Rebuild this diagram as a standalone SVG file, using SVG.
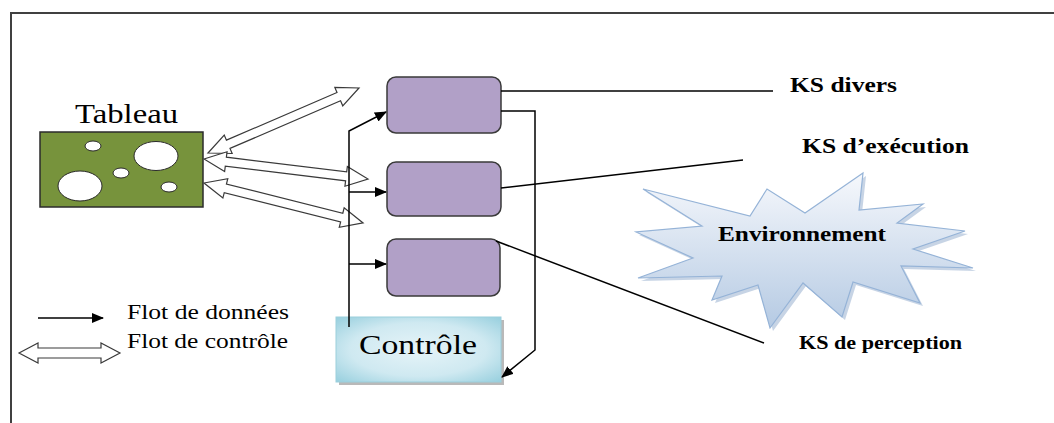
<svg xmlns="http://www.w3.org/2000/svg" width="1054" height="423" viewBox="0 0 1054 423">
<defs>
<style>
text{font-family:"Liberation Serif","DejaVu Serif",serif;fill:#000}
.b{font-weight:bold}
.ln{fill:none;stroke:#000;stroke-width:1.5}
.box{fill:#b1a0c7;stroke:#3a3a3a;stroke-width:1.5}
.dbl{fill:#fff;stroke:#3a3a3a;stroke-width:1.2;stroke-linejoin:miter}
</style>
<marker id="ah" viewBox="0 0 12 10" refX="11" refY="5" markerWidth="12" markerHeight="10" markerUnits="userSpaceOnUse" orient="auto">
<path d="M0,0 L12,5 L0,10 Z" fill="#000"/>
</marker>
<linearGradient id="starG" x1="0" y1="0" x2="0" y2="1">
<stop offset="0" stop-color="#f6f8fc"/>
<stop offset="1" stop-color="#b5cae3"/>
</linearGradient>
<radialGradient id="ctlG" cx="0.5" cy="0.5" r="0.75">
<stop offset="0" stop-color="#e6f4f8"/>
<stop offset="0.55" stop-color="#cfe9f1"/>
<stop offset="1" stop-color="#8ecbdb"/>
</radialGradient>
</defs>

<path d="M11,423 L11,13 L1054,13" fill="none" stroke="#404040" stroke-width="2"/>

<g id="tableau">
<text x="75" y="123" font-family="Liberation Serif, DejaVu Serif, serif" font-size="28" textLength="103" lengthAdjust="spacingAndGlyphs">Tableau</text>
<rect x="40" y="132" width="163" height="75" fill="#77933c" stroke="#2b2b2b" stroke-width="1.5"/>
<g fill="#fff" stroke="#2b2b2b" stroke-width="1">
<ellipse cx="93" cy="146" rx="8" ry="5"/>
<ellipse cx="156" cy="156" rx="22" ry="14.5"/>
<ellipse cx="121" cy="173" rx="8" ry="5"/>
<ellipse cx="80" cy="186" rx="22" ry="15"/>
<ellipse cx="169" cy="187" rx="8" ry="5"/>
</g>
</g>

<g id="ks-divers-box"><rect class="box" x="387" y="77" width="114" height="56" rx="9"/></g>
<g id="ks-execution-box"><rect class="box" x="387" y="162" width="114" height="54" rx="9"/></g>
<g id="ks-perception-box"><rect class="box" x="387" y="239" width="113" height="57" rx="9"/></g>

<g id="controle">
<rect x="339" y="320" width="165" height="65" fill="#7f7f7f" opacity="0.55"/>
<rect x="336" y="317" width="165" height="65" fill="url(#ctlG)" stroke="#9ccfdc" stroke-width="1"/>
<text x="359" y="354" font-family="Liberation Serif, DejaVu Serif, serif" font-size="28" textLength="118" lengthAdjust="spacingAndGlyphs">Contrôle</text>
</g>

<g id="environnement">
<polygon points="643,189 750,216 767,189 805,213 863,173 859,210 923,204 897,223 965,231 913,249 973,268 901,266 920,303 853,282 842,317 803,283 770,328 758,285 712,300 722,276 638,278 693,258 636,232 702,226" transform="translate(3,3)" fill="#8faacb" opacity="0.5"/>
<polygon points="643,189 750,216 767,189 805,213 863,173 859,210 923,204 897,223 965,231 913,249 973,268 901,266 920,303 853,282 842,317 803,283 770,328 758,285 712,300 722,276 638,278 693,258 636,232 702,226" fill="url(#starG)" stroke="#95b3d7" stroke-width="1.2"/>
<text class="b" x="718" y="241" font-family="Liberation Serif, DejaVu Serif, serif" font-size="22" textLength="168" lengthAdjust="spacingAndGlyphs">Environnement</text>
</g>

<g id="labels">
<text class="b" x="790" y="92" font-family="Liberation Serif, DejaVu Serif, serif" font-size="21" textLength="107" lengthAdjust="spacingAndGlyphs">KS divers</text>
<text class="b" x="802" y="153" font-family="Liberation Serif, DejaVu Serif, serif" font-size="21" textLength="167" lengthAdjust="spacingAndGlyphs">KS d’exécution</text>
<text class="b" x="799" y="349" font-family="Liberation Serif, DejaVu Serif, serif" font-size="19" textLength="163" lengthAdjust="spacingAndGlyphs">KS de perception</text>
</g>

<g id="legend">
<line class="ln" x1="38" y1="318" x2="103" y2="318" marker-end="url(#ah)"/>
<path class="dbl" d="M19,353 L38,343 L38,348 L101,348 L101,343 L120,353 L101,363 L101,358 L38,358 L38,363 Z"/>
<text x="127" y="319" font-family="Liberation Serif, DejaVu Serif, serif" font-size="22" textLength="162" lengthAdjust="spacingAndGlyphs">Flot de données</text>
<text x="127" y="348" font-family="Liberation Serif, DejaVu Serif, serif" font-size="22" textLength="161" lengthAdjust="spacingAndGlyphs">Flot de contrôle</text>
</g>

<g id="connectors">
<g class="dbl">
<path transform="translate(208,153) rotate(-23.3)" d="M0,0 L22,-10 L22,-4.5 L142.4,-4.5 L142.4,-10 L164.4,0 L142.4,10 L142.4,4.5 L22,4.5 L22,10 Z"/>
<path transform="translate(204,159) rotate(6.95)" d="M0,0 L22,-10 L22,-4.5 L143.2,-4.5 L143.2,-10 L165.2,0 L143.2,10 L143.2,4.5 L22,4.5 L22,10 Z"/>
<path transform="translate(204,183) rotate(14.1)" d="M0,0 L22,-10 L22,-4.5 L142,-4.5 L142,-10 L164,0 L142,10 L142,4.5 L22,4.5 L22,10 Z"/>
</g>
<path class="ln" d="M349,327 L349,131 L386,112" marker-end="url(#ah)"/>
<line class="ln" x1="349" y1="192" x2="386" y2="192" marker-end="url(#ah)"/>
<line class="ln" x1="349" y1="264" x2="386" y2="264" marker-end="url(#ah)"/>
<path class="ln" d="M501,111 L535,111 L535,350 L502,377" marker-end="url(#ah)"/>
<line class="ln" x1="501" y1="91" x2="773" y2="91"/>
<line class="ln" x1="501" y1="188" x2="743" y2="160"/>
<line class="ln" x1="496" y1="241" x2="764" y2="343"/>
</g>
</svg>
